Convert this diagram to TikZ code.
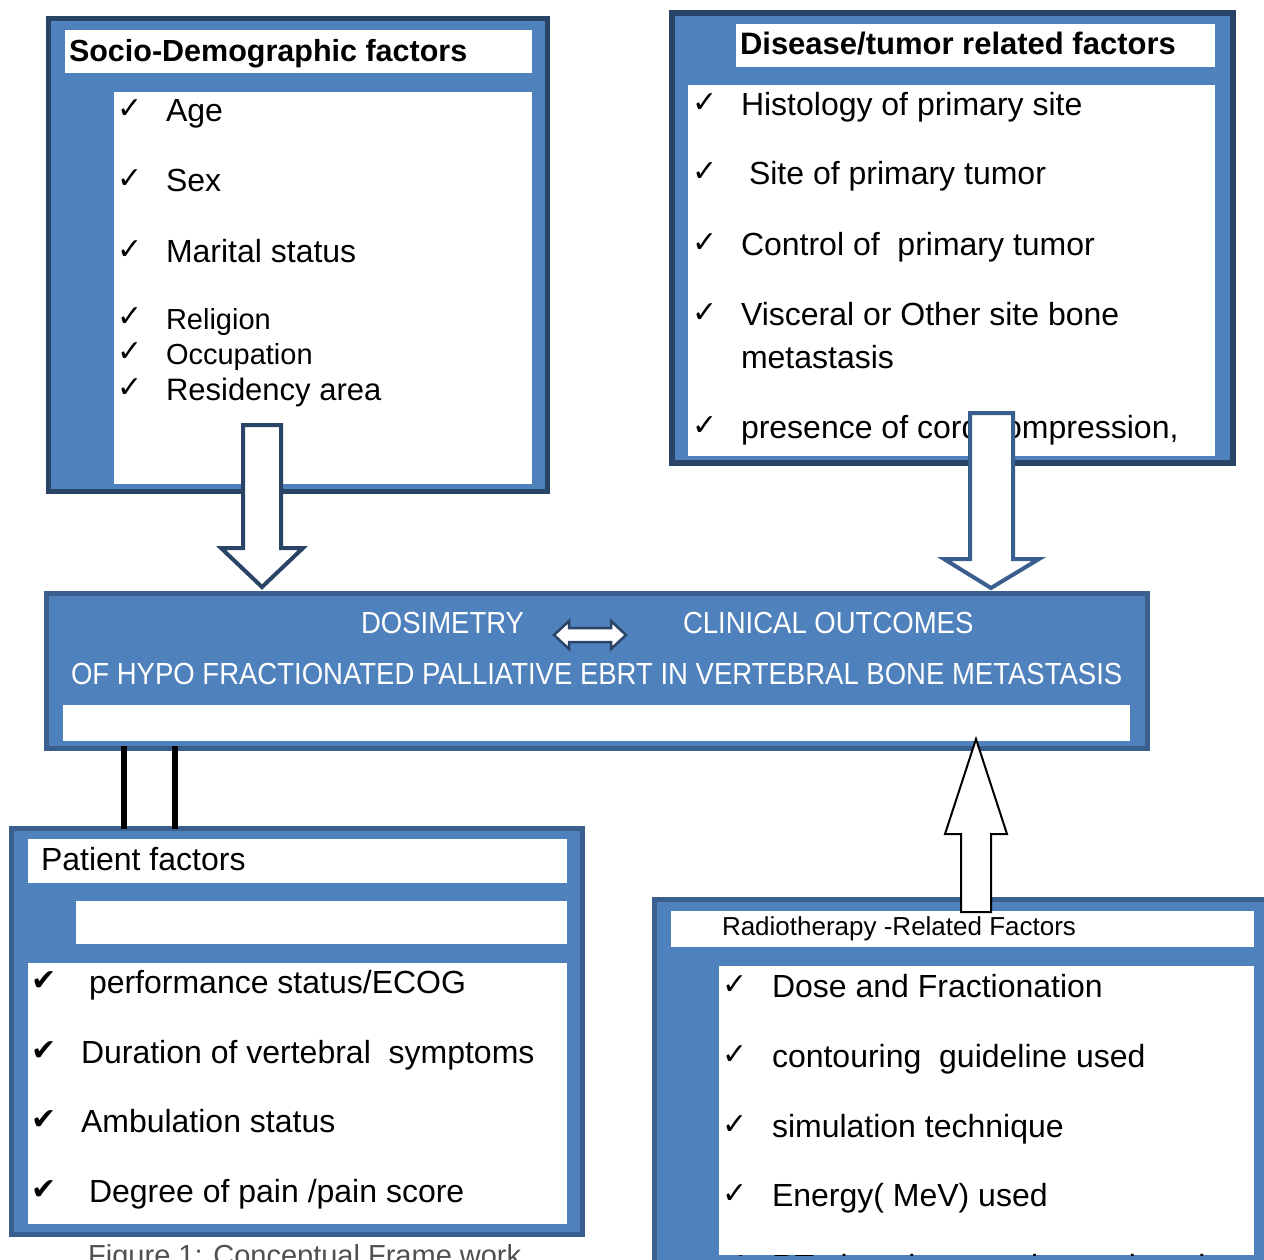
\documentclass[tikz,border=0pt]{standalone}
\usepackage{fontspec}
\setmainfont{Liberation Sans}
\newfontfamily\symf{DejaVu Sans}
\newfontfamily\narrowf[FakeStretch=0.902]{Liberation Sans}
\definecolor{fillblue}{HTML}{4F81BD}
\definecolor{navy}{HTML}{2A4468}
\definecolor{midnavy}{HTML}{3A5F8E}
\definecolor{capgray}{HTML}{505050}
\newcommand{\fs}[1]{\fontsize{#1}{#1}\selectfont}
\newcommand{\rectnode}[6]{\node[#6, inner sep=0pt, outer sep=0pt, minimum width={(#4-#2)*1pt}, minimum height={(#5-#3)*1pt}] (#1) at ({(#2+#4)/2},{(#3+#5)/2}) {};}
\tikzset{
  frame/.style={draw=#1, fill=fillblue, line width=5pt},
  panel/.style={fill=white, draw=none},
  txt/.style={anchor=base west, inner sep=0pt, outer sep=0pt, text=black, font=\fs{32}},
  smalltxt/.style={txt, font=\fs{29}},
  headtxt/.style={txt, font=\bfseries\fs{30.5}},
  chk/.style={anchor=base west, inner sep=0pt, outer sep=0pt, font=\symf\fs{30}},
  hchk/.style={anchor=base west, inner sep=0pt, outer sep=0pt, font=\symf\fs{30}},
  centretxt/.style={anchor=base west, inner sep=0pt, outer sep=0pt, text=white, font=\narrowf\fs{30.5}},
  blockarrow/.style={draw=#1, fill=white, line width=4pt, line join=miter},
  thinarrow/.style={draw=black, fill=white, line width=2pt, line join=miter},
  tieline/.style={draw=black, line width=6pt}
}
\begin{document}
\begin{tikzpicture}[x=1pt, y=-1pt]
\clip (0,0) rectangle (1264,1260);
\fill[white] (0,0) rectangle (1264,1260);

% ---------- Box 1: Socio-Demographic ----------
\rectnode{sd}{48.5}{18.5}{547.5}{491.5}{frame=navy}
\rectnode{sdtitle}{65}{30}{532}{73}{panel}
\rectnode{sdlist}{114}{92}{532}{484}{panel}
\node[headtxt] (sdhead) at (69,62) {Socio-Demographic factors};
\node[chk] (sdc1) at (117,119) {✓};
\node[txt] (sd1) at (166,122) {Age};
\node[chk] (sdc2) at (117,189) {✓};
\node[txt] (sd2) at (166,192) {Sex};
\node[chk] (sdc3) at (117,259) {✓};
\node[txt] (sd3) at (166,262) {Marital status};
\node[chk] (sdc4) at (117,326) {✓};
\node[smalltxt] (sd4) at (166,329) {Religion};
\node[chk] (sdc5) at (117,361) {✓};
\node[smalltxt] (sd5) at (166,364) {Occupation};
\node[chk] (sdc6) at (117,397) {✓};
\node[txt, font=\fs{31}] (sd6) at (166,400) {Residency area};

% ---------- Box 2: Disease/tumor ----------
\rectnode{dt}{672}{13}{1233}{463}{frame=navy, line width=6pt}
\rectnode{dttitle}{736}{24}{1215}{67}{panel}
\rectnode{dtlist}{688}{85}{1215}{456}{panel}
\node[headtxt, font=\bfseries\fs{31}] (dthead) at (740,55) {Disease/tumor related factors};
\node[chk] (dtc1) at (692,113) {✓};
\node[txt] (dt1) at (741,116) {Histology of primary site};
\node[chk] (dtc2) at (692,182) {✓};
\node[txt] (dt2) at (749,185) {Site of primary tumor};
\node[chk] (dtc3) at (692,252) {✓};
\node[txt] (dt3) at (741,255) {Control of\ \ primary tumor};
\node[chk] (dtc4) at (692,322) {✓};
\node[txt] (dt4) at (741,325) {Visceral or Other site bone};
\node[txt] (dt4b) at (741,368) {metastasis};
\node[chk] (dtc5) at (692,435) {✓};
\node[txt] (dt5) at (741,438) {presence of cord compression,};

% ---------- Centre box ----------
\rectnode{centre}{46.5}{593.5}{1147.5}{748.5}{frame=midnavy}
\rectnode{centrestrip}{63}{705}{1130}{741}{panel}
\node[centretxt] (dos) at (361,633) {DOSIMETRY};
\node[centretxt] (clin) at (683,633) {CLINICAL OUTCOMES};
\node[centretxt] (title) at (71,684) {OF HYPO FRACTIONATED PALLIATIVE EBRT IN VERTEBRAL BONE METASTASIS};
\draw[fill=white, draw=navy, line width=2.5pt, line join=miter]
  (554,635) -- (569,621) -- (569,628) -- (611,628) -- (611,621) -- (626,635)
  -- (611,649) -- (611,642) -- (569,642) -- (569,649) -- cycle;

% ---------- Box 3: Patient factors ----------
\rectnode{pat}{11.5}{828.5}{582.5}{1234.5}{frame=midnavy}
\rectnode{pattitle}{28}{839}{567}{883}{panel}
\rectnode{patblank}{76}{901}{567}{944}{panel}
\rectnode{patlist}{28}{963}{567}{1224}{panel}
\node[txt] (pathead) at (41,870) {Patient factors};
\node[hchk] (pc1) at (31,990) {✔};
\node[txt] (p1) at (89,993) {performance status/ECOG};
\node[hchk] (pc2) at (31,1060) {✔};
\node[txt] (p2) at (81,1063) {Duration of vertebral\ \ symptoms};
\node[hchk] (pc3) at (31,1129) {✔};
\node[txt] (p3) at (81,1132) {Ambulation status};
\node[hchk] (pc4) at (31,1199) {✔};
\node[txt] (p4) at (89,1202) {Degree of pain /pain score};
\node[anchor=base west, inner sep=0pt, text=capgray, font=\fs{29}] (caption) at (88,1265) {Figure 1: Conceptual Frame work};

% ---------- Box 4: Radiotherapy ----------
\rectnode{rt}{654.5}{899.5}{1275}{1275}{frame=midnavy}
\rectnode{rttitle}{671}{911}{1254}{947}{panel}
\rectnode{rtlist}{719}{966}{1254}{1255}{panel}
\node[txt, font=\fs{26}] (rthead) at (722,935) {Radiotherapy -Related Factors};
\node[chk] (rc1) at (722,994) {✓};
\node[txt] (r1) at (772,997) {Dose and Fractionation};
\node[chk] (rc2) at (722,1064) {✓};
\node[txt] (r2) at (772,1067) {contouring\ \ guideline used};
\node[chk] (rc3) at (722,1134) {✓};
\node[txt] (r3) at (772,1137) {simulation technique};
\node[chk] (rc4) at (722,1203) {✓};
\node[txt] (r4) at (772,1206) {Energy( MeV) used};
\begin{scope}
  \clip (719,966) rectangle (1254,1255);
  \node[chk] (rc5) at (722,1274) {✓};
  \node[txt] (r5) at (772,1277) {RT given in outpatient or inpatient};
\end{scope}

% ---------- Block arrows ----------
\draw[blockarrow=navy] (243,425) -- (281,425) -- (281,548) -- (303,548) -- (262,587)
  -- (221,548) -- (243,548) -- cycle;
\draw[blockarrow=midnavy] (970,413) -- (1013,413) -- (1013,559) -- (1039,559) -- (991,588)
  -- (944,559) -- (970,559) -- cycle;
\draw[thinarrow] (976,739) -- (1007,834) -- (991,834) -- (991,912) -- (961,912)
  -- (961,834) -- (945,834) -- cycle;

% ---------- Tie lines ----------
\draw[tieline] (124,0 |- centre.south) ++(0,-2.5) -- (124,0 |- pat.north);
\draw[tieline] (175,0 |- centre.south) ++(0,-2.5) -- (175,0 |- pat.north);
\end{tikzpicture}
\end{document}
